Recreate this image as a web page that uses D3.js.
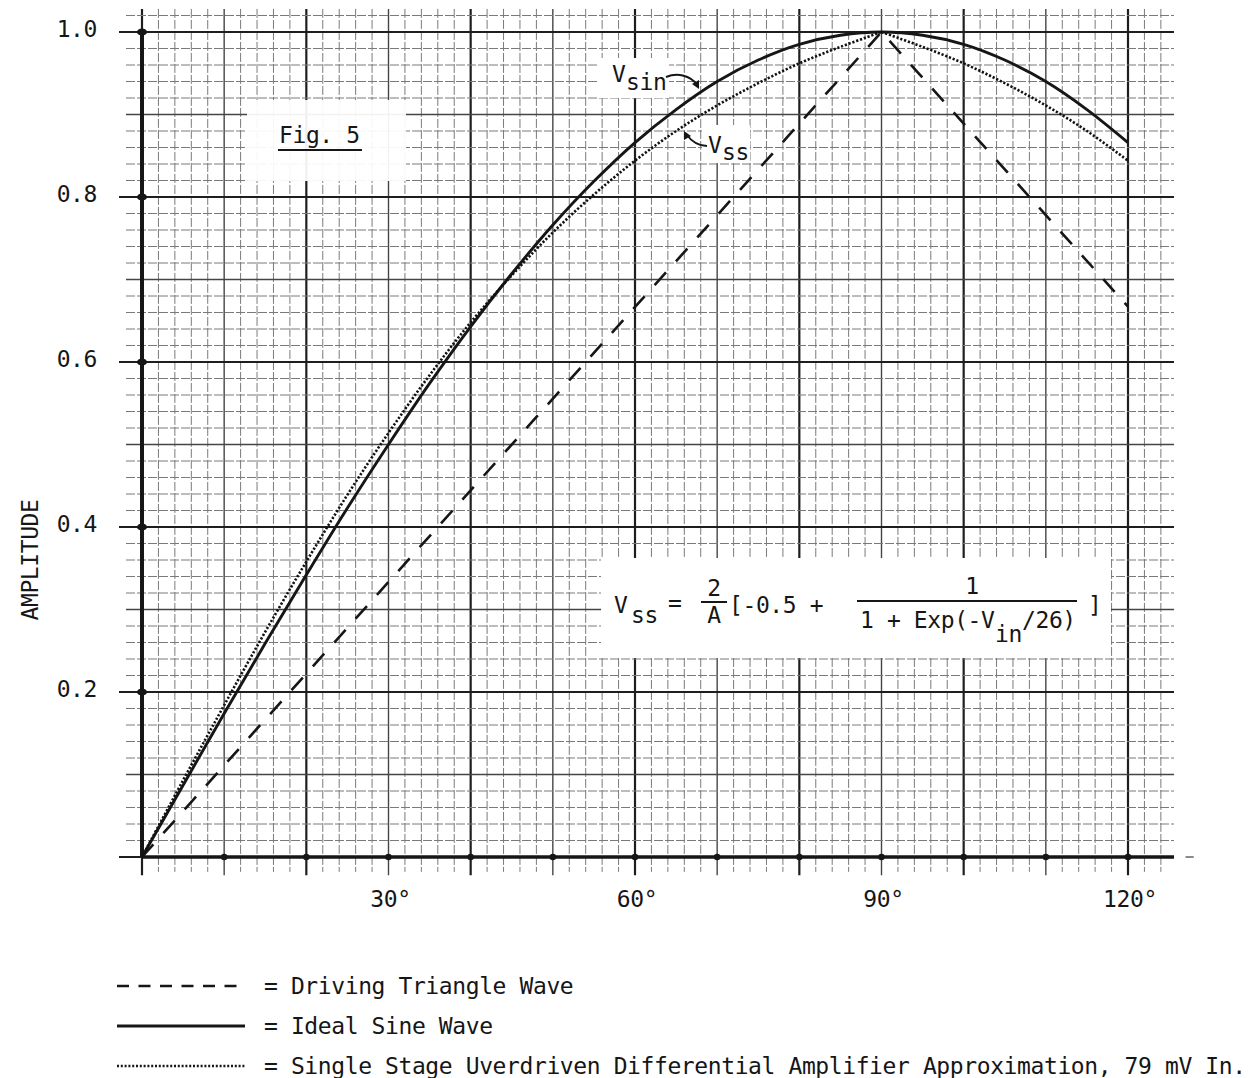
<!DOCTYPE html>
<html><head><meta charset="utf-8">
<script src="https://cdn.jsdelivr.net/npm/d3@7"></script>
<style>body{margin:0;background:#fff}svg{display:block}</style>
</head><body>
<svg id="c" width="1260" height="1078"></svg>
<script>
// ---- data ----
const angles      = [0,5,10,15,20,25,30,35,40,45,50,55,60,65,70,75,80,85,90,95,100,105,110,115,120];
const sineValues  = [0,0.087,0.174,0.259,0.342,0.423,0.500,0.574,0.643,0.707,0.766,0.819,0.866,0.906,0.940,0.966,0.985,0.996,1.000,0.996,0.985,0.966,0.940,0.906,0.866];
const vssValues   = [0,0.093,0.184,0.273,0.358,0.439,0.514,0.584,0.648,0.705,0.757,0.803,0.844,0.880,0.911,0.938,0.962,0.982,1.000,0.982,0.962,0.938,0.911,0.880,0.844];
const triangleAngles = [0,90,120];
const triangleValues = [0,1.0,0.667];
const xTickValues = [30,60,90,120];
const xTickLabels = ["30°","60°","90°","120°"];
const yTickValues = [0.2,0.4,0.6,0.8,1.0];
const yTickLabels = ["0.2","0.4","0.6","0.8","1.0"];
const yAxisTitle = "AMPLITUDE";
const figTitle = "Fig. 5";
const legendLabels = ["= Driving Triangle Wave","= Ideal Sine Wave","= Single Stage Uverdriven Differential Amplifier Approximation, 79 mV In."];
const legendStyles = ["dashed","solid","dotted"];

// ---- drawing ----
const svg = d3.select("#c");
const FONT = "'DejaVu Sans Mono', 'Liberation Mono', monospace";
const x = d3.scaleLinear().domain([0,120]).range([142,1128]);
const y = d3.scaleLinear().domain([0,1]).range([857,32]);
const ink = "#161616";

svg.append("rect").attr("width",1260).attr("height",1078).attr("fill","#fff");

const grid = svg.append("g");
// vertical grid every 2 degrees
d3.range(0,63).forEach(i=>{
  const a=i*2;
  const heavy = a%20===0, med = a%10===0;
  grid.append("line")
    .attr("x1",x(a)).attr("x2",x(a))
    .attr("y1",y(1.028)).attr("y2", med? y(-0.022): y(-0.018))
    .attr("stroke", heavy? "#1e1e1e" : med? "#454545" : "#7a7a7a")
    .attr("stroke-width", heavy? 2.2 : med? 1.4 : 1)
    .attr("stroke-dasharray", heavy||med? null : "9 2");
});
// horizontal grid every 0.02
d3.range(0,52).forEach(i=>{
  const v=i/50;
  const heavy = i%10===0, med = i%5===0;
  grid.append("line")
    .attr("x1", heavy? 119 : 126).attr("x2", x(125.6))
    .attr("y1",y(v)).attr("y2",y(v))
    .attr("stroke", heavy? "#1e1e1e" : med? "#454545" : "#7a7a7a")
    .attr("stroke-width", heavy? 2.2 : med? 1.4 : 1)
    .attr("stroke-dasharray", heavy||med? null : "9 2");
});

// white label boxes
const boxes = svg.append("g").attr("fill","#fff");
boxes.append("rect").attr("x",247).attr("y",100).attr("width",159).attr("height",81).attr("opacity",0.93);
boxes.append("rect").attr("x",599).attr("y",58).attr("width",70).attr("height",40);
boxes.append("rect").attr("x",702).attr("y",125).attr("width",48).attr("height",38);
boxes.append("rect").attr("x",601).attr("y",558).attr("width",510).attr("height",100);

// axes
const axes = svg.append("g");
axes.append("line").attr("x1",x(0)).attr("x2",x(125.6)).attr("y1",y(0)).attr("y2",y(0))
  .attr("stroke",ink).attr("stroke-width",3.6);
axes.append("line").attr("x1",x(127)).attr("x2",x(128)).attr("y1",y(0)).attr("y2",y(0))
  .attr("stroke","#666").attr("stroke-width",1.5);
axes.append("line").attr("x1",x(0)).attr("x2",x(0)).attr("y1",y(1)).attr("y2",y(0))
  .attr("stroke",ink).attr("stroke-width",4);
d3.range(1,13).forEach(i=>{
  axes.append("circle").attr("cx",x(i*10)).attr("cy",y(0)).attr("r",3.3).attr("fill",ink);
});
yTickValues.forEach(v=>{
  axes.append("ellipse").attr("cx",x(0)).attr("cy",y(v)).attr("rx",5).attr("ry",3.6).attr("fill",ink);
});

// curves
const line = d3.line().x((d,i)=>x(d[0])).y(d=>y(d[1]));
const triData = triangleAngles.map((a,i)=>[a,triangleValues[i]]);
svg.append("path").attr("d", line.curve(d3.curveLinear)(triData))
  .attr("fill","none").attr("stroke",ink).attr("stroke-width",2.6).attr("stroke-dasharray","17 15");

const sineData = angles.map((a,i)=>[a,sineValues[i]]);
svg.append("path").attr("d", d3.line().x(d=>x(d[0])).y(d=>y(d[1])).curve(d3.curveCatmullRom.alpha(0.5))(sineData))
  .attr("fill","none").attr("stroke",ink).attr("stroke-width",2.9);

const vssData = angles.map((a,i)=>[a,vssValues[i]]);
const peak = angles.indexOf(90);
const cr = d3.line().x(d=>x(d[0])).y(d=>y(d[1])).curve(d3.curveCatmullRom.alpha(0.5));
[vssData.slice(0,peak+1), vssData.slice(peak)].forEach(seg=>{
  svg.append("path").attr("d", cr(seg))
    .attr("fill","none").attr("stroke","#111").attr("stroke-width",2.6).attr("stroke-dasharray","2.2 1.8");
});

// text helpers
function txt(g, s, px, py, opts={}) {
  return g.append("text").attr("x",px).attr("y",py).text(s)
    .attr("font-family",FONT).attr("font-size",opts.size||23).attr("letter-spacing",opts.ls!=null?opts.ls:-0.4)
    .attr("fill",ink).attr("text-anchor",opts.anchor||"start");
}
const T = svg.append("g");
xTickValues.forEach((v,i)=> txt(T, xTickLabels[i], x(v)+2, 907, {anchor:"middle"}));
yTickValues.forEach((v,i)=> txt(T, yTickLabels[i], 97, y(v)+5, {anchor:"end"}));
txt(T, yAxisTitle, 0, 0, {anchor:"middle"}).attr("transform","translate(38,560) rotate(-90)");

// Fig. 5
txt(T, figTitle, 279, 143);
T.append("line").attr("x1",278).attr("x2",362).attr("y1",150).attr("y2",150).attr("stroke",ink).attr("stroke-width",2);

// curve labels
txt(T,"V",612,82); txt(T,"sin",626,90);
txt(T,"V",708,153); txt(T,"ss",722,160);

// arrows
const arr = svg.append("g").attr("fill","none").attr("stroke",ink).attr("stroke-width",2);
const p1 = d3.path(); p1.moveTo(666,77); p1.bezierCurveTo(676,73,690,74,698,86);
arr.append("path").attr("d",p1.toString());
arr.append("path").attr("d","M692,84 L699,89 L699,80").attr("fill",ink).attr("stroke","none");
const p2 = d3.path(); p2.moveTo(707,146); p2.bezierCurveTo(698,146,692,142,686,134);
arr.append("path").attr("d",p2.toString());
arr.append("path").attr("d","M684,131 L684,140 L691,136 Z").attr("fill",ink).attr("stroke","none");

// formula
const F = svg.append("g");
txt(F,"V",614,613); txt(F,"ss",631,623);
txt(F,"=",668,611);
txt(F,"2",714,596,{anchor:"middle"});
F.append("line").attr("x1",701).attr("x2",727).attr("y1",602).attr("y2",602).attr("stroke",ink).attr("stroke-width",2);
txt(F,"A",714,623,{anchor:"middle"});
txt(F,"[-0.5 +",729,613);
txt(F,"1",972,594,{anchor:"middle"});
F.append("line").attr("x1",857).attr("x2",1077).attr("y1",601).attr("y2",601).attr("stroke",ink).attr("stroke-width",2);
txt(F,"1 + Exp(-V",860,628);
txt(F,"in",995,642);
txt(F,"/26)",1022,628);
txt(F,"]",1088,613);

// legend
const L = svg.append("g");
legendLabels.forEach((lab,i)=>{
  const ly = 986 + i*40;
  const st = legendStyles[i];
  L.append("line").attr("x1",117).attr("x2",st==="dashed"?240:245).attr("y1",ly).attr("y2",ly)
    .attr("stroke",ink)
    .attr("stroke-width", st==="solid"?3:2.4)
    .attr("stroke-dasharray", st==="dashed"?"12 9.5": st==="dotted"?"2 1.8":null);
  txt(L, lab, 264, ly+8);
});
</script>
</body></html>
